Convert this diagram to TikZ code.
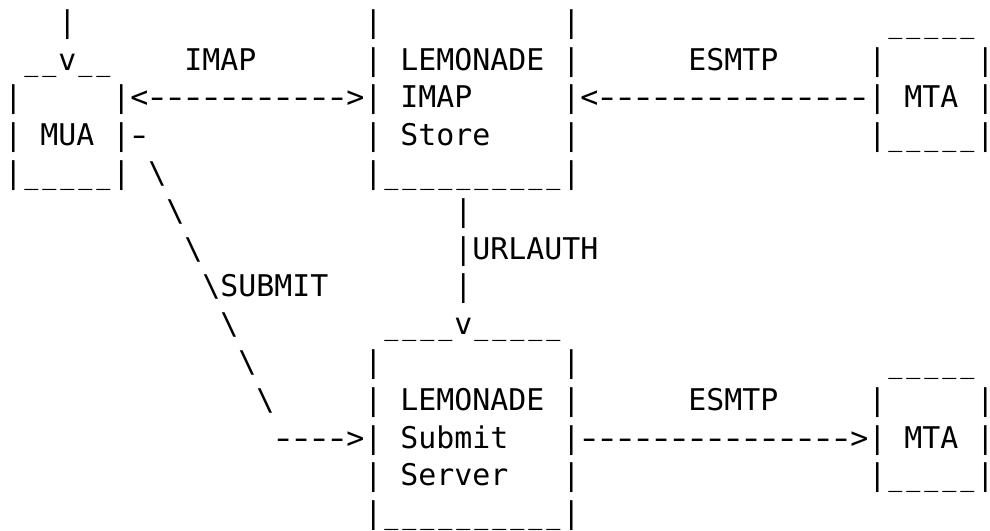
\documentclass[tikz,border=0pt]{standalone}
\usepackage{fontspec}
\usepackage{graphicx}
\setmonofont{DejaVu Sans Mono}
\newcommand\ascd{\makebox[9pt][c]{\scalebox{1.4}[1]{-}}}
\newcommand\ascu{\makebox[9pt][c]{\scalebox{0.78}[1]{\_}}}
\ExplSyntaxOn
\cs_new:Npn \ascsp #1 { \prg_replicate:nn {#1} { \nobreakspace } }
\cs_new:Npn \ascdash #1 { \prg_replicate:nn {#1} { \ascd } }
\cs_new:Npn \ascus #1 { \prg_replicate:nn {#1} { \ascu } }
\ExplSyntaxOff
\newcommand\bs{\textbackslash}
\newcommand\lastbar{\rlap{|}}
\tikzset{
  asciiline/.style={anchor=base west, inner sep=0pt, outer sep=0pt,
    font=\ttfamily\fontsize{14.95}{18.9}\selectfont\frenchspacing, text=black}
}
\begin{document}
\begin{tikzpicture}
\useasboundingbox (0,0) rectangle (495pt,-265pt);
\fill[white] (0,0) rectangle (495pt,-265pt);
\node[asciiline] (l0)  at (2.15pt,-16.1pt)  {\ascsp{3}|\ascsp{16}|\ascsp{10}|\ascsp{17}\ascus{5}};
\node[asciiline] (l1)  at (2.15pt,-35.0pt)  {\ascsp{1}\ascus{2}v\ascus{2}\ascsp{4}IMAP\ascsp{6}|\ascsp{1}LEMONADE\ascsp{1}|\ascsp{6}ESMTP\ascsp{5}|\ascsp{5}\lastbar};
\node[asciiline] (l2)  at (2.15pt,-53.9pt)  {|\ascsp{5}|<\ascdash{11}>|\ascsp{1}IMAP\ascsp{5}|<\ascdash{15}|\ascsp{1}MTA\ascsp{1}\lastbar};
\node[asciiline] (l3)  at (2.15pt,-72.8pt)  {|\ascsp{1}MUA\ascsp{1}|\ascd\ascsp{12}|\ascsp{1}Store\ascsp{4}|\ascsp{16}|\ascus{5}\lastbar};
\node[asciiline] (l4)  at (2.15pt,-91.7pt)  {|\ascus{5}|\ascsp{1}\bs\ascsp{11}|\ascus{10}|};
\node[asciiline] (l5)  at (2.15pt,-110.6pt) {\ascsp{9}\bs\ascsp{15}|};
\node[asciiline] (l6)  at (2.15pt,-129.5pt) {\ascsp{10}\bs\ascsp{14}|URLAUTH};
\node[asciiline] (l7)  at (2.15pt,-148.4pt) {\ascsp{11}\bs SUBMIT\ascsp{7}|};
\node[asciiline] (l8)  at (2.15pt,-167.3pt) {\ascsp{12}\bs\ascsp{8}\ascus{4}v\ascus{5}};
\node[asciiline] (l9)  at (2.15pt,-186.2pt) {\ascsp{13}\bs\ascsp{6}|\ascsp{10}|\ascsp{17}\ascus{5}};
\node[asciiline] (l10) at (2.15pt,-205.1pt) {\ascsp{14}\bs\ascsp{5}|\ascsp{1}LEMONADE\ascsp{1}|\ascsp{6}ESMTP\ascsp{5}|\ascsp{5}\lastbar};
\node[asciiline] (l11) at (2.15pt,-224.0pt) {\ascsp{15}\ascdash{4}>|\ascsp{1}Submit\ascsp{3}|\ascdash{15}>|\ascsp{1}MTA\ascsp{1}\lastbar};
\node[asciiline] (l12) at (2.15pt,-242.9pt) {\ascsp{20}|\ascsp{1}Server\ascsp{3}|\ascsp{16}|\ascus{5}\lastbar};
\node[asciiline] (l13) at (2.15pt,-261.8pt) {\ascsp{20}|\ascus{10}|};
\end{tikzpicture}
\end{document}
